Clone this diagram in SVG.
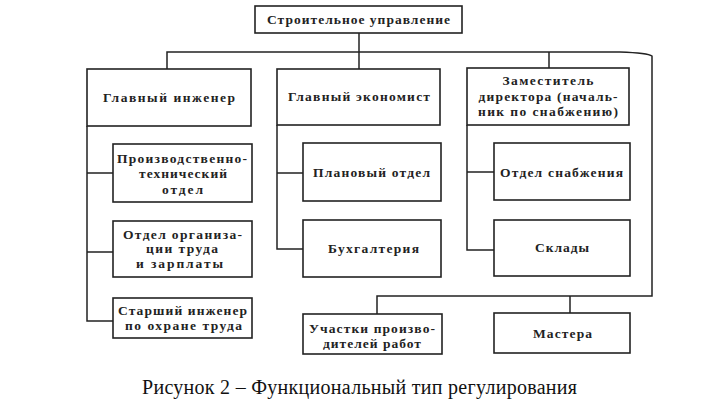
<svg xmlns="http://www.w3.org/2000/svg" width="721" height="408" viewBox="0 0 721 408">
<style>
.box{fill:#fff;stroke:#222;stroke-width:1.6}
.ln{fill:none;stroke:#222;stroke-width:1.5}
.t{font-family:"Liberation Serif","Times New Roman",serif;font-weight:bold;font-size:13.5px;fill:#222;text-anchor:middle}
.cap{font-family:"Liberation Serif","Times New Roman",serif;font-size:20px;fill:#111;text-anchor:middle}
</style>
<rect width="721" height="408" fill="#fff"/>
<g id="connectors">
<path class="ln" d="M359,33 V69"/>
<path class="ln" d="M167,69 V52 H620 Q648,53 652,56 V296 H377 V314"/>
<path class="ln" d="M549,52 V68"/>
<path class="ln" d="M570,296 V313"/>
<path class="ln" d="M87,126 V321 H113 M87,173 H113 M87,252 H113"/>
<path class="ln" d="M277,125 V249 H303 M277,173 H303"/>
<path class="ln" d="M467,125 V250 H494 M467,172 H494"/>
</g>
<g id="n-top"><rect class="box" x="255" y="6" width="207" height="27"/><text class="t" x="358.5" y="23.5" textLength="183" lengthAdjust="spacing">Строительное управление</text></g>
<g id="n-gi"><rect class="box" x="87" y="69" width="164" height="57"/><text class="t" x="169" y="101.5" textLength="132" lengthAdjust="spacing">Главный инженер</text></g>
<g id="n-ge"><rect class="box" x="277" y="69" width="163" height="56"/><text class="t" x="359" y="100.5" textLength="142" lengthAdjust="spacing">Главный экономист</text></g>
<g id="n-zd"><rect class="box" x="467" y="68" width="162" height="57"/>
<text class="t" x="548" y="84.5" textLength="91" lengthAdjust="spacing">Заместитель</text>
<text class="t" x="548" y="101" textLength="139" lengthAdjust="spacing">директора (началь-</text>
<text class="t" x="548" y="116" textLength="140" lengthAdjust="spacing">ник по снабжению)</text></g>
<g id="n-pto"><rect class="box" x="113" y="144" width="139" height="58"/>
<text class="t" x="182" y="162.5" textLength="130" lengthAdjust="spacing">Производственно-</text>
<text class="t" x="183" y="178" textLength="88" lengthAdjust="spacing">технический</text>
<text class="t" x="182.5" y="193.5" textLength="41" lengthAdjust="spacing">отдел</text></g>
<g id="n-oot"><rect class="box" x="113" y="221" width="139" height="56"/>
<text class="t" x="182.5" y="239" textLength="119" lengthAdjust="spacing">Отдел организа-</text>
<text class="t" x="182" y="253" textLength="72" lengthAdjust="spacing">ции труда</text>
<text class="t" x="179.5" y="267.5" textLength="87" lengthAdjust="spacing">и зарплаты</text></g>
<g id="n-si"><rect class="box" x="113" y="298" width="139" height="40"/>
<text class="t" x="182.5" y="314.5" textLength="129" lengthAdjust="spacing">Старший инженер</text>
<text class="t" x="183.5" y="329.5" textLength="117" lengthAdjust="spacing">по охране труда</text></g>
<g id="n-po"><rect class="box" x="303" y="143" width="138" height="58"/><text class="t" x="371.5" y="177" textLength="117" lengthAdjust="spacing">Плановый отдел</text></g>
<g id="n-bh"><rect class="box" x="303" y="220" width="138" height="57"/><text class="t" x="373.5" y="253" textLength="91" lengthAdjust="spacing">Бухгалтерия</text></g>
<g id="n-os"><rect class="box" x="494" y="143" width="136" height="57"/><text class="t" x="561.5" y="176.5" textLength="123" lengthAdjust="spacing">Отдел снабжения</text></g>
<g id="n-sk"><rect class="box" x="494" y="220" width="136" height="56"/><text class="t" x="562" y="252" textLength="54" lengthAdjust="spacing">Склады</text></g>
<g id="n-uch"><rect class="box" x="303" y="314" width="139" height="40"/>
<text class="t" x="372" y="333" textLength="126" lengthAdjust="spacing">Участки произво-</text>
<text class="t" x="372" y="347.5" textLength="98" lengthAdjust="spacing">дителей работ</text></g>
<g id="n-ms"><rect class="box" x="494" y="313" width="136" height="40"/><text class="t" x="562.5" y="337.5" textLength="59" lengthAdjust="spacing">Мастера</text></g>
<text class="cap" x="359.5" y="394" textLength="435" lengthAdjust="spacing">Рисунок 2 – Функциональный тип регулирования</text>
</svg>
